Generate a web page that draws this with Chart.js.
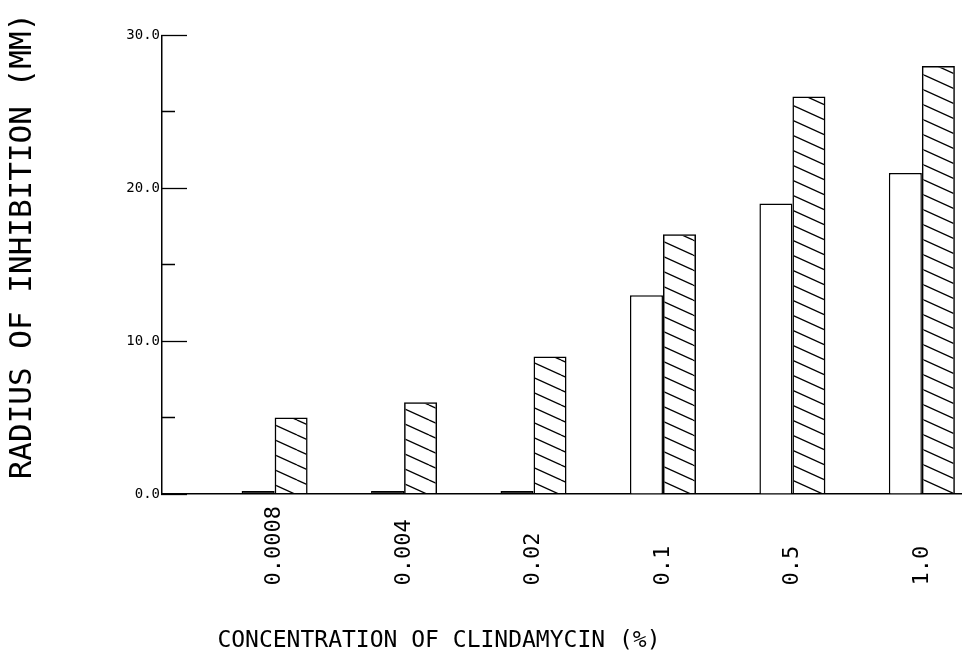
<!DOCTYPE html>
<html>
<head>
<meta charset="utf-8">
<script src="https://cdn.jsdelivr.net/npm/chart.js@4.4.1/dist/chart.umd.min.js"></script>
<style>
  body { margin: 0; background: #fff; }
  canvas { display: block; }
</style>
</head>
<body>
<canvas id="chart" width="962" height="672"></canvas>
<script>
// concentrations of clindamycin (%) and where each group sits on the x scale
const categories = ["0.0008", "0.004", "0.02", "0.1", "0.5", "1.0"];
const xPositions = [1, 2, 3, 4, 5, 6];
// radius of inhibition (mm)
const openValues = [0.2, 0.2, 0.2, 13, 19, 21];
const hatchedValues = [5, 6, 9, 17, 26, 28];
const yLabelled = [0, 10, 20, 30];

const FONT = "'DejaVu Sans Mono', monospace";
Chart.defaults.color = "#000";

// diagonal hatch used for the second series
function makeHatch() {
  const c = document.createElement("canvas");
  c.width = 33;
  c.height = 15;
  const g = c.getContext("2d");
  g.strokeStyle = "#000";
  g.lineWidth = 1.3;
  [-15, 0, 15].forEach(function (dy) {
    g.beginPath();
    g.moveTo(0, dy);
    g.lineTo(33, dy + 15);
    g.stroke();
  });
  return g.createPattern(c, "repeat");
}

const ctx = document.getElementById("chart").getContext("2d");
const chart = new Chart(ctx, {
  type: "bar",
  data: {
    datasets: [
      {
        data: xPositions.map((x, i) => ({ x: x, y: openValues[i] })),
        // near-zero bars show up as a solid line on the baseline
        backgroundColor: (c) => (c.raw && c.raw.y < 1 ? "#000" : "#fff"),
        borderColor: "#000",
        borderWidth: 1.5,
      },
      {
        data: xPositions.map((x, i) => ({ x: x, y: hatchedValues[i] })),
        backgroundColor: makeHatch(),
        borderColor: "#000",
        borderWidth: 1.5,
      },
    ],
  },
  options: {
    responsive: false,
    animation: false,
    layout: { padding: { top: 32, right: 0, left: 0, bottom: 0 } },
    datasets: {
      bar: { categoryPercentage: 0.51, barPercentage: 1 },
    },
    plugins: {
      legend: { display: false },
      tooltip: { enabled: false },
    },
    scales: {
      x: {
        type: "linear",
        position: "bottom",
        offset: false,
        min: 0.13,
        max: 6.31,
        grid: { display: false, drawTicks: false },
        border: { display: true, color: "#000", width: 1.5 },
        afterBuildTicks: (scale) => {
          scale.ticks = xPositions.map((v) => ({ value: v }));
        },
        afterFit: (scale) => {
          scale.height = 178;
        },
        ticks: {
          autoSkip: false,
          minRotation: 90,
          maxRotation: 90,
          padding: 12,
          font: { family: FONT, size: 22 },
          // pad so every label starts at the same baseline
          callback: (value) => categories[xPositions.indexOf(value)].padEnd(6, " "),
        },
        title: {
          display: true,
          text: "    CONCENTRATION OF CLINDAMYCIN (%)",
          align: "start",
          font: { family: FONT, size: 23 },
          padding: { top: 0, bottom: 17 },
        },
      },
      y: {
        min: 0,
        max: 30,
        ticks: {
          stepSize: 5,
          padding: 27,
          font: { family: FONT, size: 14 },
          callback: (value) => (yLabelled.includes(value) ? value.toFixed(1) : ""),
        },
        grid: {
          drawOnChartArea: false,
          drawTicks: true,
          tickLength: -25,
          tickColor: "#000",
          tickWidth: 1.3,
          // minor ticks are half length, starting at the axis
          tickBorderDash: (c) => (c.tick && yLabelled.includes(c.tick.value) ? [] : [0, 12, 14, 200]),
        },
        border: { display: true, color: "#000", width: 1.5 },
        afterFit: (scale) => {
          scale.width = 162;
        },
        title: {
          display: true,
          text: "  RADIUS OF INHIBITION (MM)",
          font: { family: FONT, size: 31 },
          padding: { top: 4, bottom: 0 },
        },
      },
    },
  },
});
</script>
</body>
</html>
